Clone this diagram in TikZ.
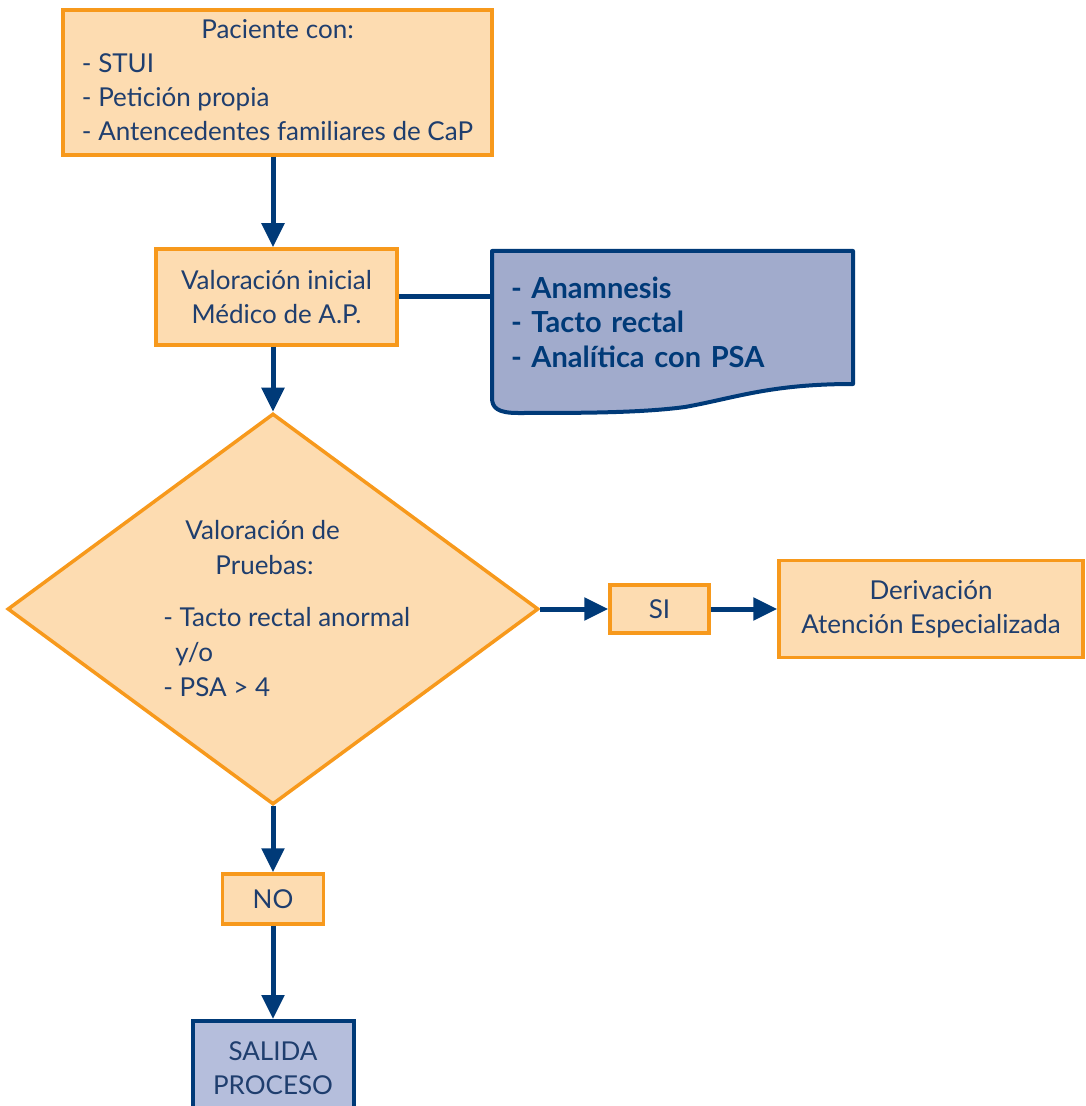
\documentclass[tikz,border=0pt]{standalone}
\usepackage{fontspec}
\setmainfont{Lato}
\usetikzlibrary{arrows.meta,positioning,shapes.geometric,backgrounds}
\definecolor{ink}{HTML}{1F3E6E}
\definecolor{navy}{HTML}{003A78}
\definecolor{orng}{HTML}{F7991C}
\definecolor{peach}{HTML}{FDDCB1}
\definecolor{docbg}{HTML}{A1ABCC}
\definecolor{exitbg}{HTML}{B5BEDC}

\begin{document}
\begin{tikzpicture}[x=0.5pt,y=-0.5pt,
  box/.style={draw=orng,fill=peach,line width=1.75pt,inner sep=0pt,
              align=center,text=ink,font=\fontsize{13}{17}\selectfont},
  decide/.style={box,diamond,minimum width=265.5pt,minimum height=195.5pt},
  txt/.style={inner sep=0pt,align=left,text=ink,font=\fontsize{13}{17.5}\selectfont},
  exitbox/.style={box,draw=navy,fill=exitbg,line width=2pt},
  note/.style={inner xsep=9.5pt,inner ysep=0pt,text width=161.5pt,
               minimum width=180.5pt,minimum height=67pt,align=left,
               text=navy,font=\fontsize{14.5}{17.25}\selectfont\bfseries},
  docline/.style={draw=navy,fill=docbg,line width=2pt,line join=round},
  arr/.style={-{Triangle[length=12pt,width=11pt]},line width=2.5pt,draw=navy},
  link/.style={line width=2.5pt,draw=navy}]
  \useasboundingbox (0,0) rectangle (1085,1106);
  % main column
  \node[box,minimum width=214.5pt,minimum height=72.5pt] (pac) at (277.5,82.5)
       {\begin{tabular}{@{}l@{}}\multicolumn{1}{@{}c@{}}{Paciente con:}\\
        - STUI\\- Petición propia\\- Antencedentes familiares de CaP\end{tabular}};
  \node[box,minimum width=120.5pt,minimum height=48pt] (val) at (276.5,297)
       {Valoración inicial\\Médico de A.P.};
  \node[decide] (dia) at (273,609) {};
  \node[txt,anchor=west] (diatxt) at (163,609)
       {\hspace*{11pt}Valoración de\\
        \hspace*{26pt}Pruebas:\\[8.5pt]
        - Tacto rectal anormal\\
        \hspace*{6pt}y/o\\
        - PSA > 4};
  \node[box,minimum width=50.5pt,minimum height=25pt] (no) at (273,899) {NO};
  \node[exitbox,minimum width=80.5pt,minimum height=47pt] (exit) at (273,1068)
       {SALIDA\\PROCESO};
  % branch to the right
  \node[box,minimum width=49.5pt,minimum height=24pt] (si) at (659.5,609) {SI};
  \node[box,minimum width=152pt,minimum height=48.5pt] (deriv) at (931,609)
       {Derivación\\Atención Especializada};
  % document with the tests
  \draw[docline] (492,251) -- (853,251) -- (853,384)
       .. controls (770,384) and (735,398) .. (685,407)
       .. controls (640,413) and (580,413) .. (518,413)
       .. controls (498,413) and (492,408) .. (492,398) -- cycle;
  \node[note] (doc) at (672.5,322)
       {- Anamnesis\\- Tacto rectal\\- Analítica con PSA};
  % connectors
  \draw[arr] (pac.south -| dia.north) -- (val.north -| dia.north);
  \draw[link] (val.east) -- (val.east -| doc.west);
  \draw[arr] (val.south -| dia.north) -- (dia.north);
  \draw[arr] (dia.east) -- (si.west);
  \draw[arr] (si.east) -- (deriv.west);
  \draw[arr] (dia.south) -- (no.north);
  \draw[arr] (no.south) -- (exit.north);
\end{tikzpicture}
\end{document}
